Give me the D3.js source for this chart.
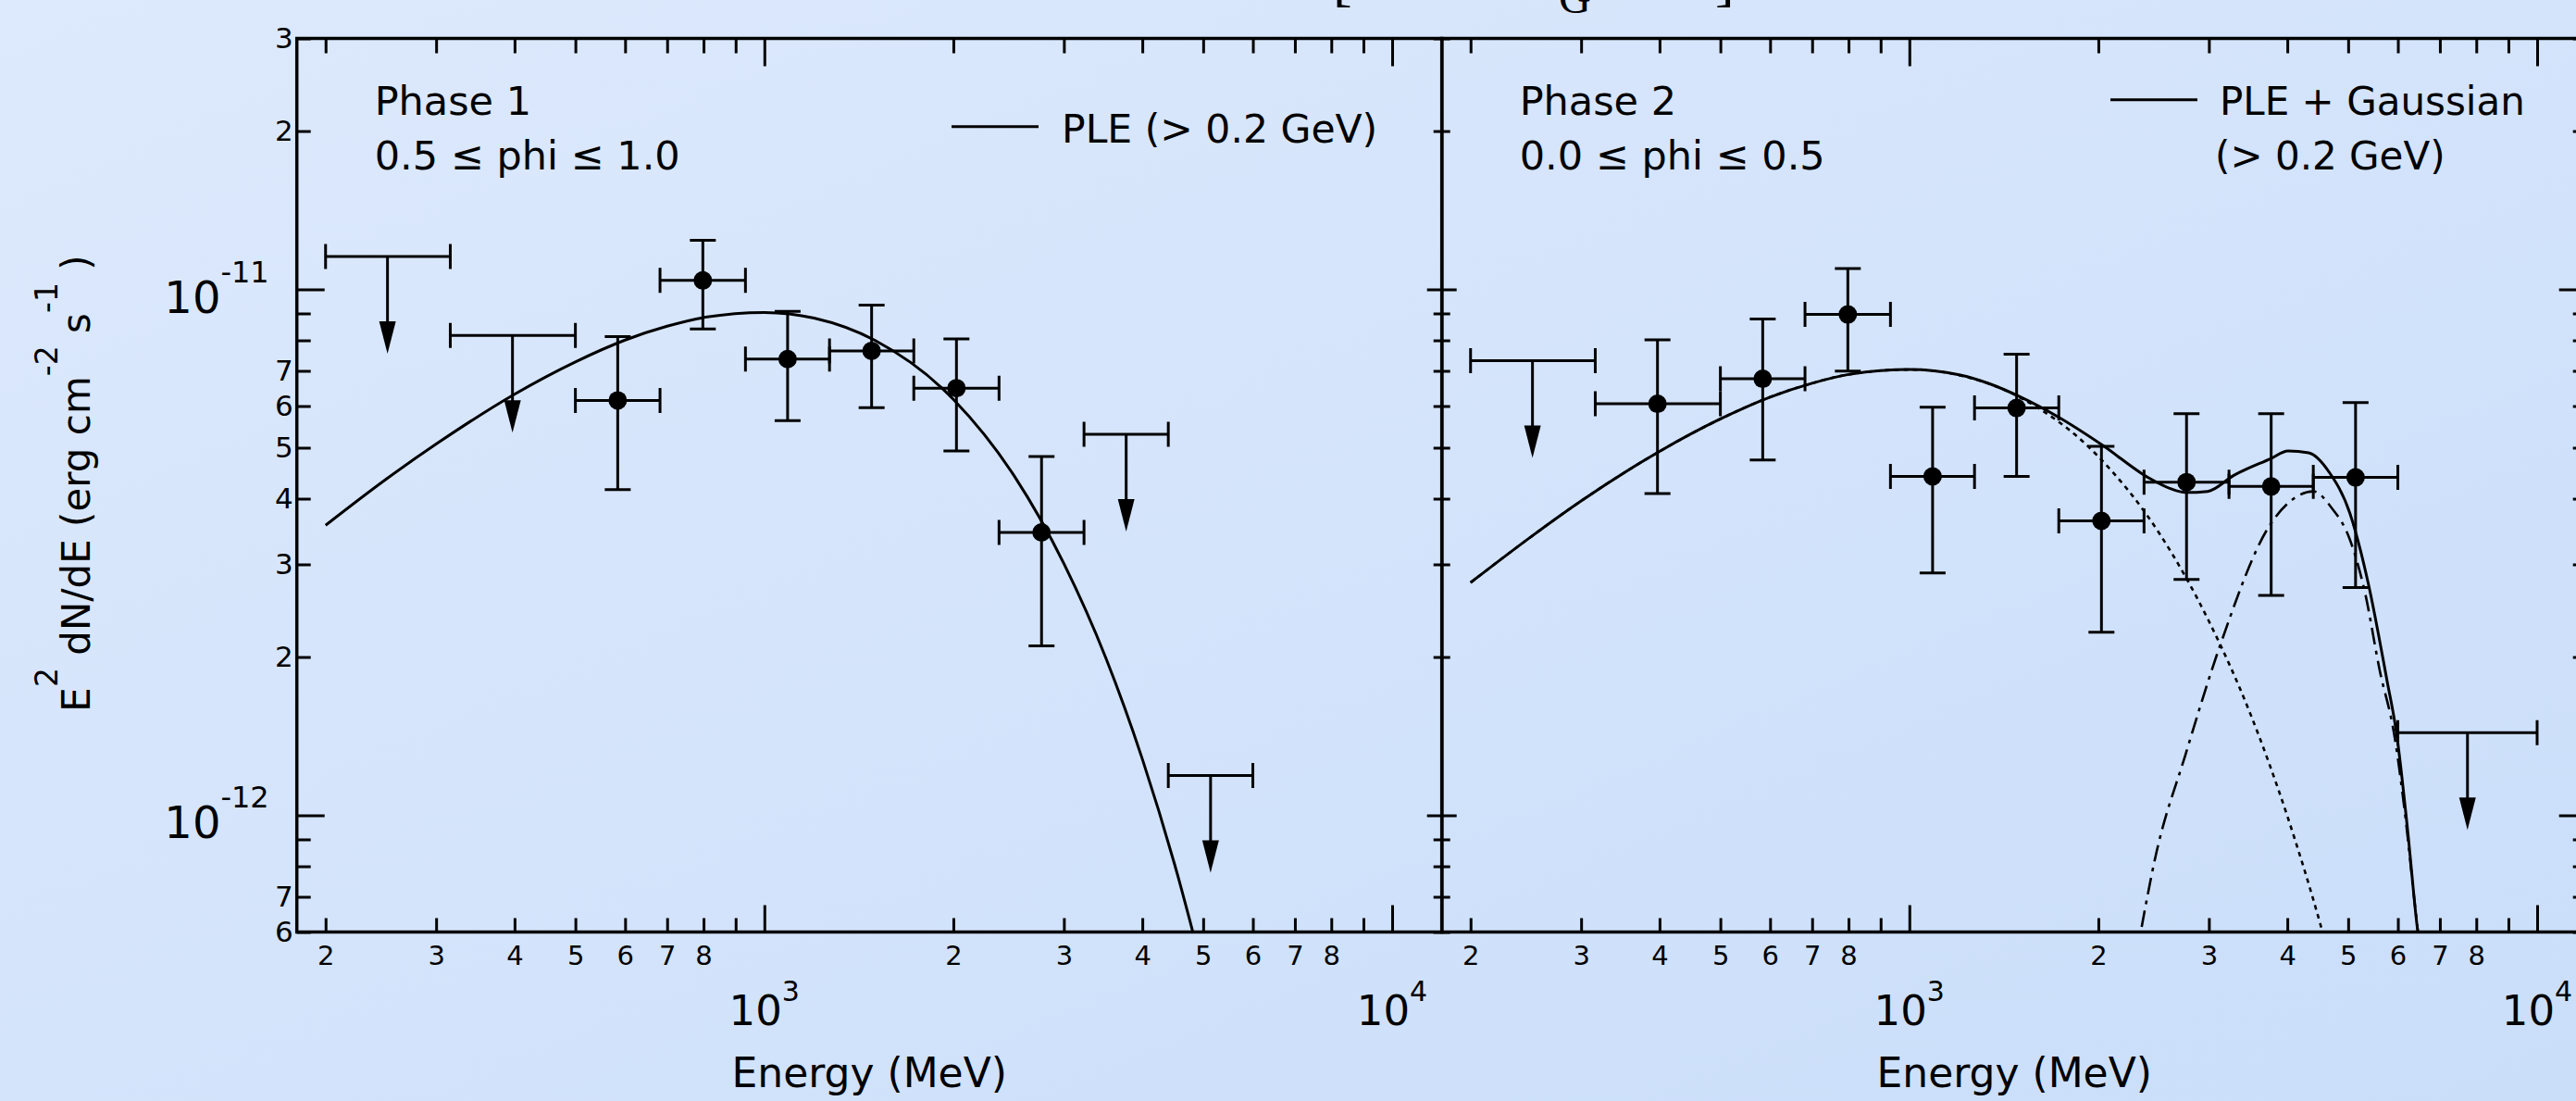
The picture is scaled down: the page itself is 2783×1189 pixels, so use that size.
<!DOCTYPE html>
<head>
  <meta charset="utf-8">
  <script src="https://d3js.org/d3.v7.min.js"></script>
  <style>
    body { margin: 0; background: #d6e5fb; }
    svg { display: block; width: 2783px; height: 1189px; }
    text { font-family: "DejaVu Sans", sans-serif; fill: #000; }
  </style>
</head>
<body>
  <svg></svg>
  <script>
    // energy bins in MeV (same binning for both phases)
    var binLo  = [200, 316, 500, 682, 933, 1270, 1730, 2365, 3230, 4400, 6000];
    var binHi  = [316, 500, 682, 933, 1270, 1730, 2365, 3230, 4400, 6000, 10000];
    var binMid = [251, 397, 584, 798, 1089, 1482, 2023, 2764, 3770, 5138, 7746];

    // Phase 1 (0.5 <= phi <= 1.0)
    var phase1Flux  = [1.155e-11, 8.17e-12, 6.15e-12, 1.04e-11, 7.37e-12, 7.64e-12, 6.49e-12, 3.45e-12, 5.30e-12, 1.19e-12];
    var phase1Low   = [null, null, 4.16e-12, 8.41e-12, 5.63e-12, 5.96e-12, 4.93e-12, 2.10e-12, null, null];
    var phase1High  = [null, null, 8.13e-12, 1.24e-11, 9.08e-12, 9.33e-12, 8.05e-12, 4.81e-12, null, null];
    var phase1Limit = [true, true, false, false, false, false, false, false, true, true];

    // Phase 2 (0.0 <= phi <= 0.5)
    var phase2Flux  = [7.32e-12, 6.06e-12, 6.76e-12, 8.96e-12, 4.41e-12, 5.95e-12, 3.63e-12, 4.30e-12, 4.22e-12, 4.39e-12, 1.436e-12];
    var phase2Low   = [null, 4.09e-12, 4.74e-12, 6.99e-12, 2.89e-12, 4.41e-12, 2.23e-12, 2.81e-12, 2.62e-12, 2.71e-12, null];
    var phase2High  = [null, 8.02e-12, 8.78e-12, 1.095e-11, 5.97e-12, 7.53e-12, 5.03e-12, 5.80e-12, 5.80e-12, 6.09e-12, null];
    var phase2Limit = [true, false, false, false, false, false, false, false, false, false, true];

    // model curves
    var pleEnergy = [200, 250, 300, 400, 500, 600, 700, 800, 1000, 1200, 1500, 2000, 2500, 3000, 3500, 4000, 4500, 5000];
    var phase1Ple = [3.56e-12, 4.36e-12, 5.08e-12, 6.32e-12, 7.28e-12, 8.01e-12, 8.51e-12, 8.84e-12, 9.04e-12, 8.82e-12, 8.00e-12, 6.18e-12, 4.42e-12, 3.01e-12, 1.99e-12, 1.28e-12, 8.09e-13, 5.04e-13];
    var phase2Ple = [2.77e-12, 3.39e-12, 3.96e-12, 4.92e-12, 5.67e-12, 6.24e-12, 6.63e-12, 6.89e-12, 7.04e-12, 6.87e-12, 6.23e-12, 4.81e-12, 3.44e-12, 2.34e-12, 1.55e-12, 9.97e-13, 6.30e-13, 3.93e-13];

    var gaussEnergy = [2250, 2337, 2464, 2751, 3133, 3745, 4039, 4400, 4700, 5029, 5312, 5612, 5929, 6176, 6392, 6550];
    var phase2Gauss = [4.6e-13, 6.0e-13, 8.3e-13, 1.30e-12, 2.12e-12, 3.55e-12, 3.95e-12, 4.13e-12, 3.85e-12, 3.35e-12, 2.67e-12, 1.89e-12, 1.41e-12, 9.8e-13, 6.7e-13, 5.2e-13];

    var totalEnergy = [200, 250, 300, 400, 500, 600, 700, 800, 1000, 1200, 1349, 1500, 1726, 2033, 2399, 2604, 2751, 2987, 3287, 3770, 4010, 4325, 4665, 5029, 5387, 5768, 5967, 6220, 6435, 6600];
    var phase2Total = [2.77e-12, 3.39e-12, 3.96e-12, 4.92e-12, 5.67e-12, 6.24e-12, 6.63e-12, 6.89e-12, 7.04e-12, 6.88e-12, 6.60e-12, 6.25e-12, 5.72e-12, 5.05e-12, 4.39e-12, 4.18e-12, 4.11e-12, 4.13e-12, 4.43e-12, 4.77e-12, 4.93e-12, 4.89e-12, 4.49e-12, 3.76e-12, 2.75e-12, 1.80e-12, 1.44e-12, 9.35e-13, 6.2e-13, 5.0e-13];

    // ticks
    var xMajorTicks  = [1000, 10000];
    var xMajorLabels = ['3', '4'];
    var xMinorTicks  = [200, 300, 400, 500, 600, 700, 800, 900, 2000, 3000, 4000, 5000, 6000, 7000, 8000, 9000];
    var xMinorLabels = ['2', '3', '4', '5', '6', '7', '8', '', '2', '3', '4', '5', '6', '7', '8', ''];
    var yMajorTicks  = [1e-11, 1e-12];
    var yMajorLabels = ['-11', '-12'];
    var yMinorTicks  = [6e-13, 7e-13, 8e-13, 9e-13, 2e-12, 3e-12, 4e-12, 5e-12, 6e-12, 7e-12, 8e-12, 9e-12, 2e-11, 3e-11];
    var yMinorLabels = ['6', '7', '', '', '2', '3', '4', '5', '6', '7', '', '', '2', '3'];

    var W = 2783, H = 1189;
    var plotTop = 41.5, plotBottom = 1006.5, panelW = 1237;

    var svg = d3.select('svg').attr('width', W).attr('height', H);
    var defs = svg.append('defs');
    var grad = defs.append('linearGradient').attr('id', 'bg')
      .attr('x1', 0).attr('y1', 0).attr('x2', 1).attr('y2', 1);
    grad.append('stop').attr('offset', 0).attr('stop-color', '#dde9fc');
    grad.append('stop').attr('offset', 1).attr('stop-color', '#cadefa');
    svg.append('rect').attr('width', W).attr('height', H).attr('fill', 'url(#bg)');

    // cut-off title remnants at the very top
    svg.append('text').attr('x', 1440).attr('y', 0).attr('font-size', 62)
      .style('font-family', '"Liberation Serif", serif').text('[');
    svg.append('text').attr('x', 1684).attr('y', 14).attr('font-size', 48)
      .style('font-family', '"Liberation Serif", serif').text('G');
    svg.append('text').attr('x', 1853).attr('y', 0).attr('font-size', 62)
      .style('font-family', '"Liberation Serif", serif').text(']');

    var y = d3.scaleLog().domain([6e-13, 3e-11]).range([plotBottom, plotTop]);

    function drawAxis(parent, axis, values, size, tx, ty, fmt, fontSize, pad) {
      axis.tickValues(values).tickSizeInner(-size).tickSizeOuter(0)
        .tickPadding(pad || 0).tickFormat(fmt || function() { return ''; });
      var g = parent.append('g').attr('transform', 'translate(' + [tx, ty] + ')').call(axis);
      g.select('.domain').remove();
      g.selectAll('line').attr('stroke-width', 3);
      g.attr('font-size', fontSize || 30);
      return g;
    }

    var panels = [
      { left: 320.7, flux: phase1Flux, low: phase1Low, high: phase1High, limit: phase1Limit,
        leftTicks: [30, 15], rightTicks: [16, 9],
        curves: [{ e: pleEnergy, f: phase1Ple, dash: null, w: 3 }],
        phase: ['Phase 1', '0.5 \u2264 phi \u2264 1.0'] },
      { left: 1557.7, flux: phase2Flux, low: phase2Low, high: phase2High, limit: phase2Limit,
        leftTicks: [16, 9], rightTicks: [30, 15],
        curves: [
          { e: pleEnergy, f: phase2Ple, dash: '5,5', w: 2.6 },
          { e: gaussEnergy, f: phase2Gauss, dash: '18,7,4,7', w: 2.6 },
          { e: totalEnergy, f: phase2Total, dash: null, w: 3 }
        ],
        phase: ['Phase 2', '0.0 \u2264 phi \u2264 0.5'] }
    ];

    panels.forEach(function(p, pi) {
      var x = d3.scaleLog().domain([180, 12000]).range([p.left, p.left + panelW]);
      var g = svg.append('g');

      defs.append('clipPath').attr('id', 'clip' + pi).append('rect')
        .attr('x', p.left).attr('y', plotTop)
        .attr('width', panelW).attr('height', plotBottom - plotTop);

      // ticks on all four sides
      drawAxis(g, d3.axisBottom(x), xMajorTicks, 29, 0, plotBottom);
      drawAxis(g, d3.axisBottom(x), xMinorTicks, 15, 0, plotBottom,
        function(d) { return xMinorLabels[xMinorTicks.indexOf(d)]; }, 29, 15);
      drawAxis(g, d3.axisTop(x), xMajorTicks, 30, 0, plotTop);
      drawAxis(g, d3.axisTop(x), xMinorTicks, 16, 0, plotTop);
      drawAxis(g, d3.axisLeft(y), yMajorTicks, p.leftTicks[0], p.left, 0);
      drawAxis(g, d3.axisLeft(y), yMinorTicks, p.leftTicks[1], p.left, 0,
        pi === 0 ? function(d) { return yMinorLabels[yMinorTicks.indexOf(d)]; } : null, 31, 4);
      drawAxis(g, d3.axisRight(y), yMajorTicks, p.rightTicks[0], p.left + panelW, 0);
      drawAxis(g, d3.axisRight(y), yMinorTicks, p.rightTicks[1], p.left + panelW, 0);

      // 10^n labels on x
      var xl = g.selectAll('text.xmaj').data(xMajorTicks).enter().append('text')
        .attr('class', 'xmaj')
        .attr('x', function(d) { return x(d); })
        .attr('y', plotBottom + 100)
        .attr('text-anchor', 'middle');
      xl.append('tspan').attr('font-size', 45).text('10');
      xl.append('tspan').attr('font-size', 30).attr('dy', -26)
        .text(function(d, i) { return xMajorLabels[i]; });

      if (pi === 0) {
        var yl = g.selectAll('text.ymaj').data(yMajorTicks).enter().append('text')
          .attr('class', 'ymaj')
          .attr('x', p.left - 30)
          .attr('y', function(d) { return y(d) + 25; })
          .attr('text-anchor', 'end');
        yl.append('tspan').attr('font-size', 48).text('10');
        yl.append('tspan').attr('font-size', 32).attr('dy', -33)
          .text(function(d, i) { return yMajorLabels[i]; });
      }

      // frame
      g.append('rect').attr('x', p.left).attr('y', plotTop)
        .attr('width', panelW).attr('height', plotBottom - plotTop)
        .attr('fill', 'none').attr('stroke', '#000').attr('stroke-width', 3.5);

      // model curves
      var line = d3.line()
        .x(function(d) { return x(d[0]); })
        .y(function(d) { return y(d[1]); })
        .curve(d3.curveMonotoneX);
      var cg = g.append('g').attr('clip-path', 'url(#clip' + pi + ')');
      p.curves.forEach(function(c) {
        cg.append('path')
          .attr('d', line(c.e.map(function(e, i) { return [e, c.f[i]]; })))
          .attr('fill', 'none').attr('stroke', '#000')
          .attr('stroke-width', c.w)
          .attr('stroke-dasharray', c.dash);
      });

      // data points, error bars and upper limits
      var mg = g.append('g');
      p.flux.forEach(function(f, i) {
        var cx = x(binMid[i]), cy = y(f), x0 = x(binLo[i]), x1 = x(binHi[i]);
        var path = d3.path();
        path.moveTo(x0, cy); path.lineTo(x1, cy);
        path.moveTo(x0, cy - 13.5); path.lineTo(x0, cy + 13.5);
        path.moveTo(x1, cy - 13.5); path.lineTo(x1, cy + 13.5);
        if (p.limit[i]) {
          path.moveTo(cx, cy); path.lineTo(cx, cy + 72);
          mg.append('path')
            .attr('d', 'M' + (cx - 9) + ',' + (cy + 70) + 'L' + (cx + 9) + ',' + (cy + 70) + 'L' + cx + ',' + (cy + 105) + 'Z')
            .attr('fill', '#000');
        } else {
          var yHi = y(p.high[i]), yLo = y(p.low[i]);
          path.moveTo(cx, yHi); path.lineTo(cx, yLo);
          path.moveTo(cx - 14, yHi); path.lineTo(cx + 14, yHi);
          path.moveTo(cx - 14, yLo); path.lineTo(cx + 14, yLo);
          mg.append('circle').attr('cx', cx).attr('cy', cy).attr('r', 10).attr('fill', '#000');
        }
        mg.append('path').attr('d', path.toString())
          .attr('fill', 'none').attr('stroke', '#000').attr('stroke-width', 3);
      });

      // phase label
      g.append('text').attr('x', p.left + 84).attr('y', 124).attr('font-size', 43).text(p.phase[0]);
      g.append('text').attr('x', p.left + 84).attr('y', 183).attr('font-size', 43).text(p.phase[1]);

      // x axis title
      g.append('text').attr('x', p.left + panelW / 2).attr('y', 1174)
        .attr('text-anchor', 'middle').attr('font-size', 44).text('Energy (MeV)');
    });

    // legends
    svg.append('line').attr('x1', 1028).attr('x2', 1122).attr('y1', 136.7).attr('y2', 136.7)
      .attr('stroke', '#000').attr('stroke-width', 3);
    svg.append('text').attr('x', 1147).attr('y', 154).attr('font-size', 42.5).text('PLE (> 0.2 GeV)');
    svg.append('line').attr('x1', 2280).attr('x2', 2374).attr('y1', 107.7).attr('y2', 107.7)
      .attr('stroke', '#000').attr('stroke-width', 3);
    svg.append('text').attr('x', 2398).attr('y', 124).attr('font-size', 42).text('PLE + Gaussian');
    svg.append('text').attr('x', 2393).attr('y', 183).attr('font-size', 42).text('(> 0.2 GeV)');

    // y axis title
    var yt = svg.append('text')
      .attr('transform', 'translate(97,522)rotate(-90)')
      .attr('text-anchor', 'middle').attr('font-size', 42);
    yt.append('tspan').text('E');
    yt.append('tspan').attr('font-size', 33).attr('dy', -35).text('2');
    yt.append('tspan').attr('dy', 35).text(' dN/dE (erg cm');
    yt.append('tspan').attr('font-size', 33).attr('dy', -35).text('-2');
    yt.append('tspan').attr('dy', 35).text(' s');
    yt.append('tspan').attr('font-size', 33).attr('dy', -35).text('-1');
    yt.append('tspan').attr('dy', 35).text(' )');
  </script>
</body>
